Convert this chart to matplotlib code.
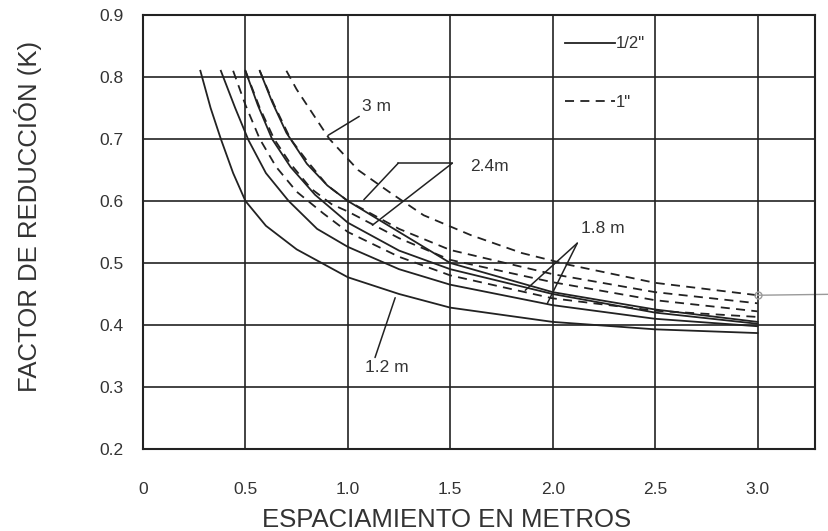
import matplotlib
matplotlib.use("Agg")
import matplotlib.pyplot as plt
from matplotlib.lines import Line2D

# spacing between rods (m) and reduction factor K, read curve by curve
# 1/2" rods (solid)
x_12_half = [0.28, 0.33, 0.38, 0.44, 0.50, 0.60, 0.75, 1.00, 1.25, 1.50, 2.00, 2.50, 3.00]
k_12_half = [0.81, 0.75, 0.70, 0.645, 0.60, 0.56, 0.522, 0.477, 0.45, 0.428, 0.405, 0.393, 0.387]
x_18_half = [0.38, 0.45, 0.515, 0.60, 0.711, 0.85, 1.00, 1.25, 1.50, 2.00, 2.50, 3.00]
k_18_half = [0.81, 0.75, 0.698, 0.645, 0.60, 0.555, 0.526, 0.49, 0.465, 0.432, 0.41, 0.398]
x_24_half = [0.50, 0.56, 0.63, 0.72, 0.84, 1.00, 1.25, 1.50, 2.00, 2.50, 3.00]
k_24_half = [0.81, 0.755, 0.70, 0.655, 0.61, 0.565, 0.52, 0.49, 0.45, 0.42, 0.402]
x_3_half = [0.57, 0.63, 0.70, 0.80, 0.90, 1.00, 1.25, 1.50, 2.00, 2.50, 3.00]
k_3_half = [0.81, 0.76, 0.71, 0.66, 0.625, 0.60, 0.55, 0.50, 0.453, 0.425, 0.405]
# 1" rods (dashed)
x_12_one = [0.44, 0.50, 0.57, 0.65, 0.75, 0.88, 1.00, 1.25, 1.50, 2.00, 2.50, 3.00]
k_12_one = [0.81, 0.755, 0.70, 0.655, 0.615, 0.58, 0.55, 0.51, 0.48, 0.443, 0.423, 0.413]
x_18_one = [0.50, 0.57, 0.64, 0.72, 0.82, 0.92, 1.00, 1.25, 1.50, 2.00, 2.50, 3.00]
k_18_one = [0.81, 0.75, 0.70, 0.66, 0.62, 0.595, 0.583, 0.54, 0.505, 0.469, 0.44, 0.422]
x_24_one = [0.57, 0.64, 0.72, 0.80, 0.90, 1.00, 1.25, 1.50, 2.00, 2.50, 3.00]
k_24_one = [0.81, 0.755, 0.70, 0.665, 0.625, 0.60, 0.555, 0.521, 0.482, 0.453, 0.435]
x_3_one = [0.70, 0.75, 0.80, 0.91, 1.05, 1.20, 1.37, 1.60, 1.85, 2.08, 2.50, 3.00]
k_3_one = [0.81, 0.78, 0.755, 0.70, 0.65, 0.615, 0.577, 0.545, 0.516, 0.497, 0.468, 0.448]

x_ticks = [0, 0.5, 1.0, 1.5, 2.0, 2.5, 3.0]
x_labels = ["0", "0.5", "1.0", "1.5", "2.0", "2.5", "3.0"]
y_ticks = [0.2, 0.3, 0.4, 0.5, 0.6, 0.7, 0.8, 0.9]
y_labels = ["0.2", "0.3", "0.4", "0.5", "0.6", "0.7", "0.8", "0.9"]

ink = "#222222"
plt.rcParams["font.family"] = ["Liberation Sans", "DejaVu Sans"]

fig = plt.figure(figsize=(8.29, 5.31), dpi=100)
ax = fig.add_axes([0.1725, 0.1544, 0.8105, 0.8174])
ax.set_xlim(0, 3.28)
ax.set_ylim(0.2, 0.9)

ax.set_xticks(x_ticks)
ax.set_xticklabels(x_labels)
ax.set_yticks(y_ticks)
ax.set_yticklabels(y_labels)
ax.tick_params(axis="both", length=0, labelsize=12.5, colors="#333333")
ax.tick_params(axis="x", pad=24)
ax.tick_params(axis="y", pad=14)
ax.grid(True, color=ink, linewidth=1.2)
ax.set_axisbelow(True)
for sp in ax.spines.values():
    sp.set_color(ink)
    sp.set_linewidth(1.5)

solid = dict(color=ink, linewidth=1.3)
dashed = dict(color=ink, linewidth=1.3, linestyle=(0, (5, 3.5)))
ax.plot(x_12_half, k_12_half, **solid)
ax.plot(x_18_half, k_18_half, **solid)
ax.plot(x_24_half, k_24_half, **solid)
ax.plot(x_3_half, k_3_half, **solid)
ax.plot(x_12_one, k_12_one, **dashed)
ax.plot(x_18_one, k_18_one, **dashed)
ax.plot(x_24_one, k_24_one, **dashed)
ax.plot(x_3_one, k_3_one, **dashed)

# short grey leader running off the right edge from the end of the 3 m curve
ax.plot([x_3_one[-1], 3.47], [k_3_one[-1], 0.45], color="#9a9a9a", linewidth=1.0,
        clip_on=False)
ax.plot([x_3_one[-1]], [k_3_one[-1]], marker="o", markersize=5, markerfacecolor="none",
        markeredgecolor="#9a9a9a", clip_on=False)

# legend for rod diameter
handles = [Line2D([], [], **solid), Line2D([], [], **dashed)]
ax.legend(handles, ['1/2"', '1"'], loc="upper left", bbox_to_anchor=(0.605, 0.985),
          frameon=False, fontsize=12, handlelength=3.0, handletextpad=0.1,
          labelspacing=2.6, labelcolor="#333333")

# curve labels with leader lines
lead = dict(arrowstyle="-", color=ink, linewidth=1.1, shrinkA=0, shrinkB=0)
txt = dict(fontsize=12.5, color="#333333")
ax.annotate("3 m", xy=(0.904, 0.706), xytext=(1.138, 0.753), ha="center", va="center",
            arrowprops=lead, **txt)
ax.text(1.597, 0.656, "2.4m", ha="left", va="center", **txt)
ax.plot([1.246, 1.51], [0.661, 0.661], color=ink, linewidth=1.1)
ax.annotate("", xy=(1.078, 0.602), xytext=(1.246, 0.661), arrowprops=lead)
ax.annotate("", xy=(1.12, 0.561), xytext=(1.51, 0.661), arrowprops=lead)
ax.text(2.247, 0.555, "1.8 m", ha="center", va="center", **txt)
ax.annotate("", xy=(1.866, 0.456), xytext=(2.12, 0.532), arrowprops=lead)
ax.annotate("", xy=(1.974, 0.435), xytext=(2.12, 0.532), arrowprops=lead)
ax.annotate("1.2 m", xy=(1.231, 0.444), xytext=(1.192, 0.331), ha="center", va="center",
            arrowprops=dict(lead, relpos=(0.2, 1.0)), **txt)

ax.set_xlabel("ESPACIAMIENTO EN METROS", fontsize=18.5, color="#333333")
ax.xaxis.set_label_coords(0.452, -0.135)
ax.set_ylabel("FACTOR DE REDUCCIÓN (K)", fontsize=18.5, color="#333333")
ax.yaxis.set_label_coords(-0.150, 0.535)

fig.savefig("out.png", dpi=100)
